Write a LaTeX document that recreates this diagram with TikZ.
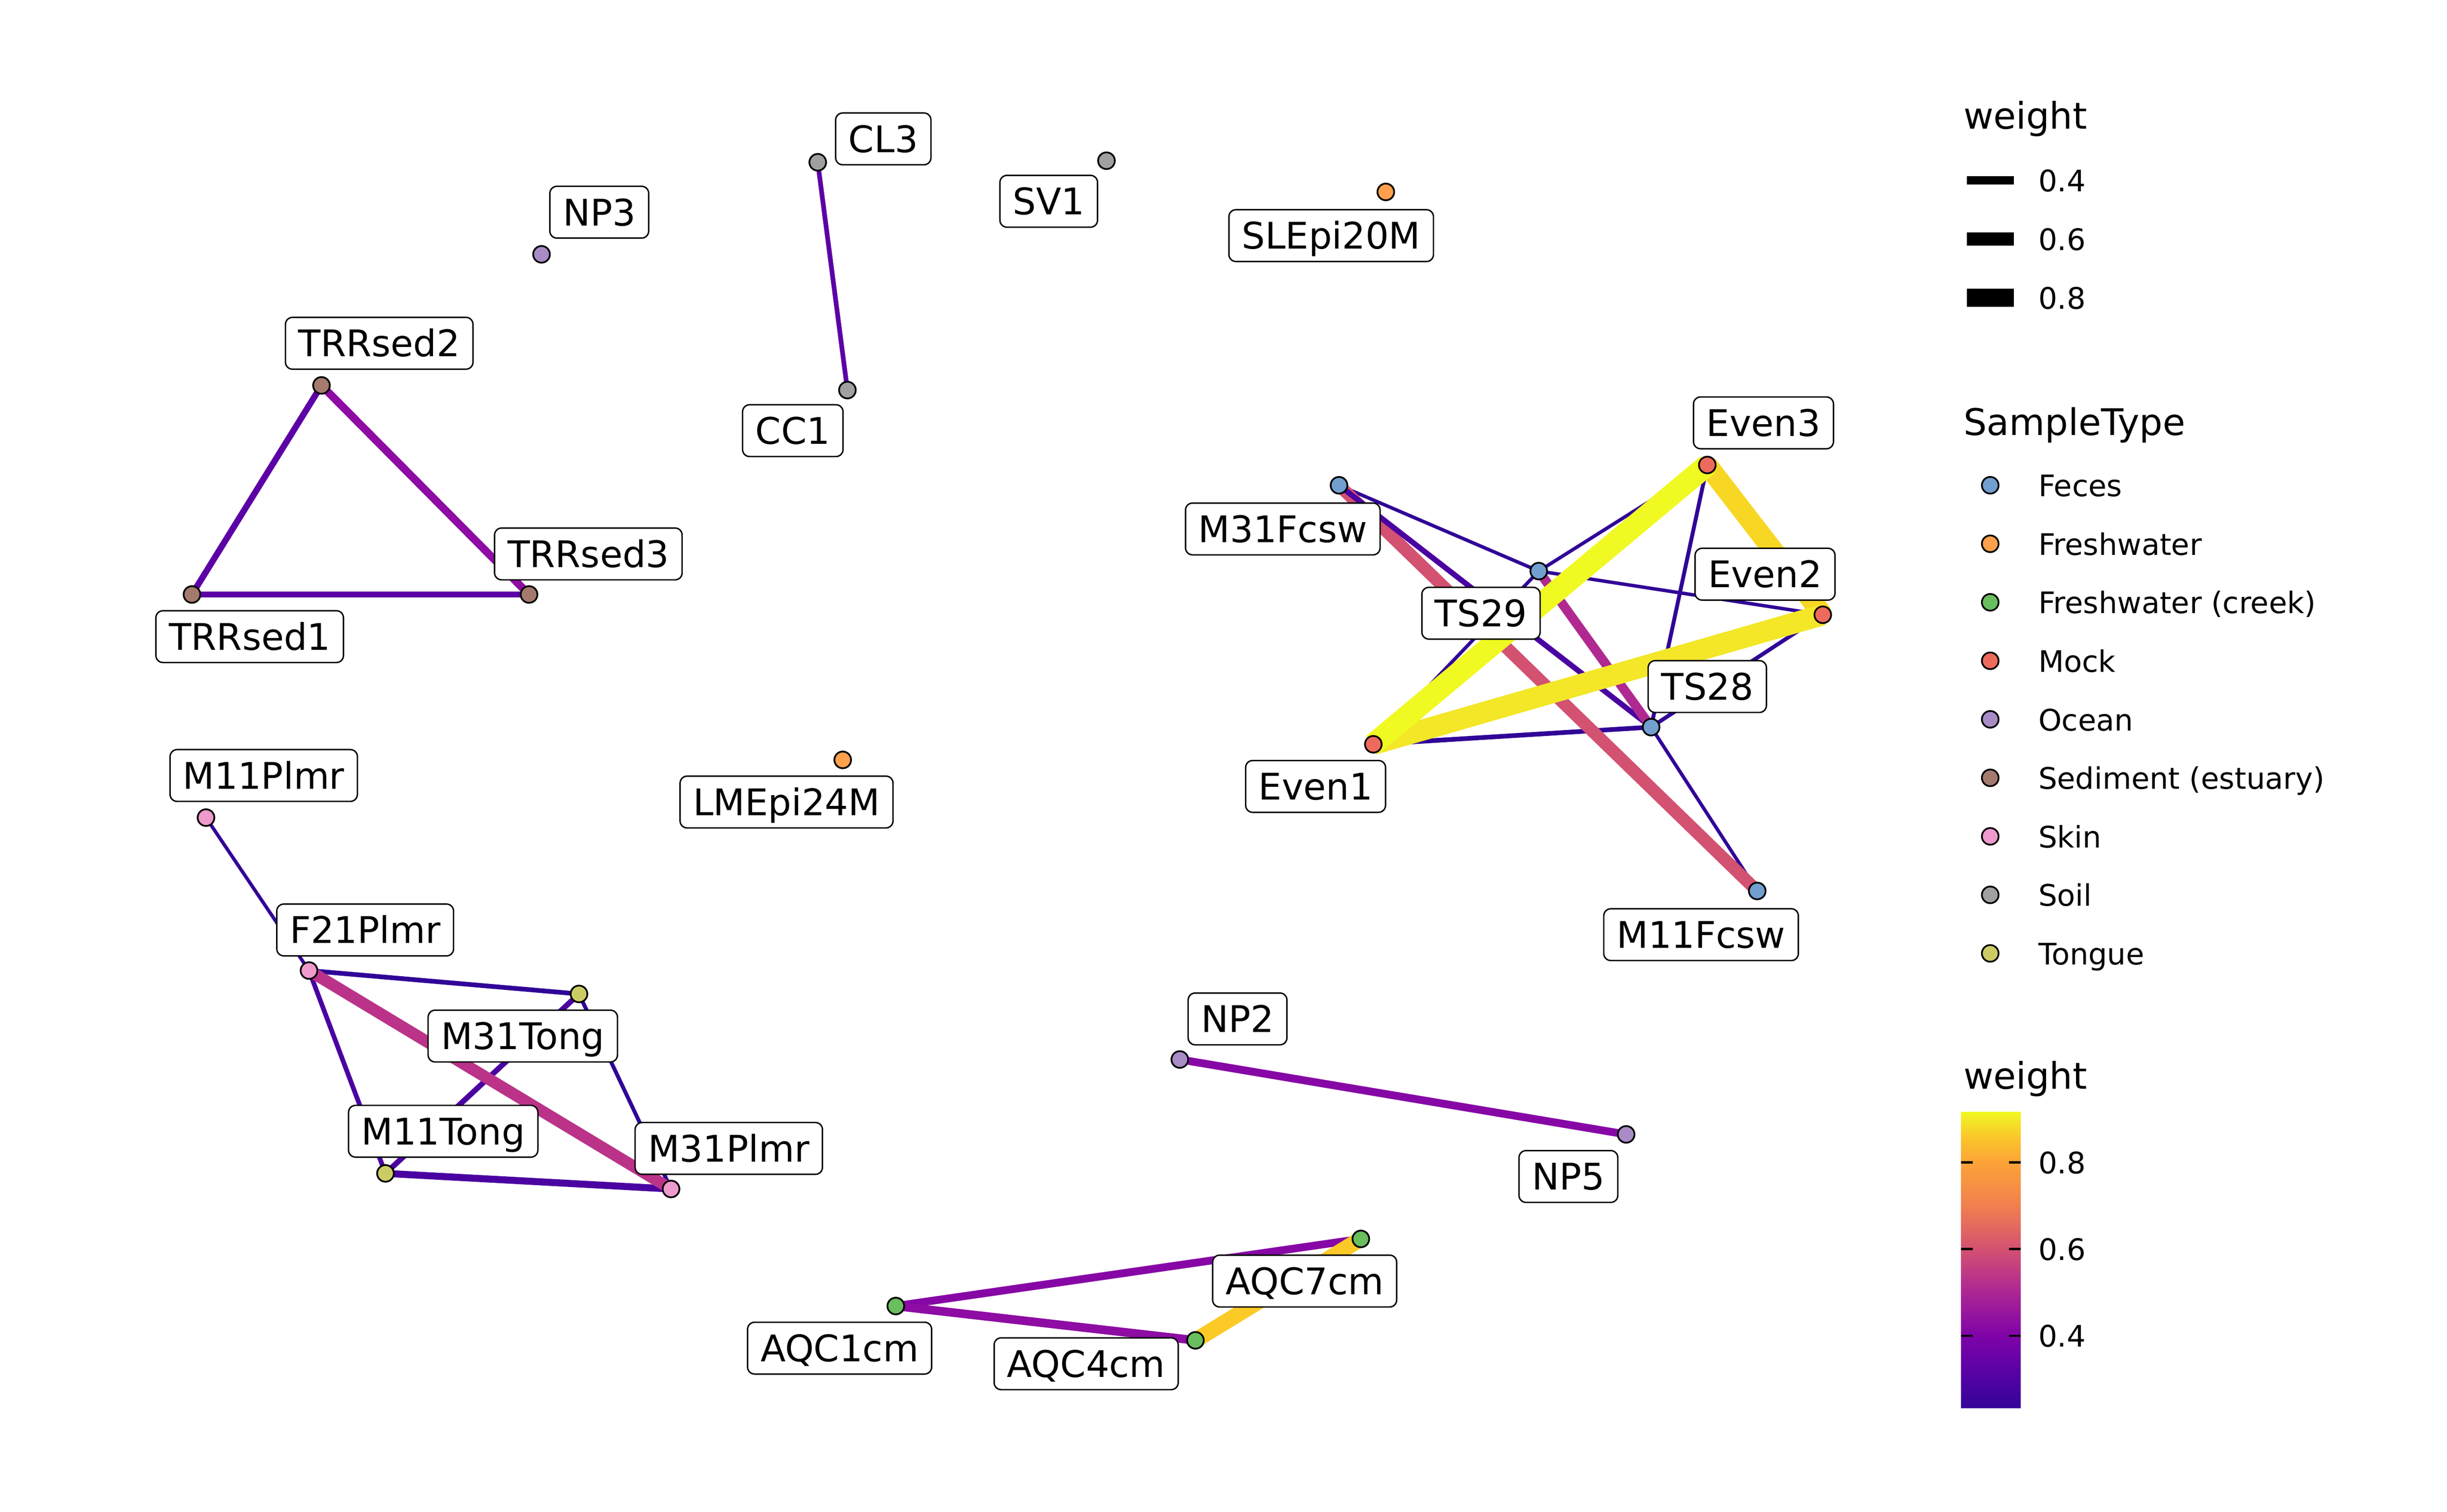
\documentclass[tikz,border=0pt]{standalone}
\usepackage{fontspec}
\setmainfont{DejaVu Sans}
\newcommand\labfnt{\fontsize{23.5}{28}\selectfont}
\newcommand\keyfnt{\fontsize{19}{23}\selectfont}
% sample types
\definecolor{cFeces}{HTML}{729FCF}
\definecolor{cFresh}{HTML}{FEA04C}
\definecolor{cCreek}{HTML}{69BE5E}
\definecolor{cMock}{HTML}{EE6A5C}
\definecolor{cOcean}{HTML}{A98BC6}
\definecolor{cSed}{HTML}{A57A6E}
\definecolor{cSkin}{HTML}{EE9ACC}
\definecolor{cSoil}{HTML}{A0A0A0}
\definecolor{cTong}{HTML}{CCCC66}
% edge weights
\definecolor{eA}{HTML}{300597}
\definecolor{eB}{HTML}{4A03A1}
\definecolor{eC}{HTML}{5C01A6}
\definecolor{eD}{HTML}{8707A6}
\definecolor{eDD}{HTML}{8E0CA4}
\definecolor{eE}{HTML}{B02991}
\definecolor{eF}{HTML}{BA3388}
\definecolor{eG}{HTML}{D35171}
\definecolor{eH}{HTML}{FCCA26}
\definecolor{eI}{HTML}{F8D724}
\definecolor{eJ}{HTML}{F3E727}
\definecolor{eK}{HTML}{F0F921}
\definecolor{pA}{HTML}{350498}
\definecolor{pB}{HTML}{5102A3}
\definecolor{pC}{HTML}{7E03A8}
\definecolor{pD}{HTML}{AC2694}
\definecolor{pE}{HTML}{D35171}
\definecolor{pF}{HTML}{F07F4F}
\definecolor{pG}{HTML}{FCA338}
\definecolor{pH}{HTML}{FAC72A}
\definecolor{pI}{HTML}{F0F921}
\pgfdeclareverticalshading{plasma}{100bp}{color(0bp)=(pA); color(25bp)=(pA);
  color(29.8bp)=(pB); color(37.2bp)=(pC); color(44.5bp)=(pD); color(51.8bp)=(pE);
  color(59.1bp)=(pF); color(66.4bp)=(pG); color(70.8bp)=(pH); color(75bp)=(pI);
  color(100bp)=(pI)}
\pgfdeclarelayer{edges}
\pgfsetlayers{edges,main}
\begin{document}
\begin{tikzpicture}[x=1pt,y=-1pt,line join=round,
  pt/.style={circle,draw=black,line width=1.1pt,minimum size=10.7pt,inner sep=0pt},
  lab/.style={draw=black,fill=white,line width=0.9pt,rounded corners=4.5pt,
    inner xsep=8.3pt,inner ysep=8pt,text height=17.2pt,text depth=0pt,font=\labfnt},
  ttl/.style={anchor=base west,inner sep=0pt,font=\labfnt},
  key/.style={anchor=base west,inner sep=0pt,font=\keyfnt}]
 \useasboundingbox (0,0) rectangle (1568,969);
 % samples
 \foreach \n/\x/\y/\t/\lx/\ly in {CL3/524/104/cSoil/566/89, SV1/709/103/cSoil/672/129,
   SLEpi20M/888/123/cFresh/853/151, NP3/347/163/cOcean/384/136, CC1/543/250/cSoil/508/276,
   TRRsed2/206/247/cSed/243/220, TRRsed3/339/381/cSed/377/355, TRRsed1/123/381/cSed/160/408,
   M11Plmr/132/524/cSkin/169/497, LMEpi24M/540/487/cFresh/504/514,
   F21Plmr/198/622/cSkin/234/596, M31Tong/371/637/cTong/335/664,
   M11Tong/247/752/cTong/284/725, M31Plmr/430/762/cSkin/467/736,
   NP2/756/679/cOcean/793/653, NP5/1042/727/cOcean/1005/754,
   AQC1cm/574/837/cCreek/538/864, AQC4cm/766/859/cCreek/696/874, AQC7cm/872/794/cCreek/836/821,
   Even3/1094/298/cMock/1130/271, M31Fcsw/858/311/cFeces/822/339, TS29/986/366/cFeces/949/393,
   Even2/1168/394/cMock/1131/368, TS28/1058/466/cFeces/1094/440, Even1/880/477/cMock/843/504,
   M11Fcsw/1126/571/cFeces/1090/599}
 {\node[pt,fill=\t] (\n) at (\x,\y) {};
  \node[lab] (l\n) at (\lx,\ly) {\n};}
 % edges
 \begin{pgfonlayer}{edges}
 \foreach \a/\b/\c/\w in {M11Plmr/F21Plmr/eA/2.2, M31Tong/M31Plmr/eA/2.5, F21Plmr/M31Tong/eA/3,
   F21Plmr/M11Tong/eB/3, M31Tong/M11Tong/eB/3.5, M11Tong/M31Plmr/eB/4.5,
   M31Fcsw/TS29/eA/2.2, TS29/Even3/eA/2.2, TS29/Even2/eA/2.2, TS29/Even1/eA/2.2,
   Even1/TS28/eA/3, Even3/TS28/eA/2.5, Even2/TS28/eA/2.5, TS28/M11Fcsw/eA/2.2,
   CL3/CC1/eC/3, TRRsed2/TRRsed1/eC/4, TRRsed1/TRRsed3/eC/4, TRRsed2/TRRsed3/eDD/5,
   NP2/NP5/eD/5, AQC1cm/AQC7cm/eD/5, AQC1cm/AQC4cm/eDD/5.5,
   M31Fcsw/M11Fcsw/eG/8, M31Fcsw/TS28/eB/3.5, TS29/TS28/eE/6, F21Plmr/M31Plmr/eF/7.5,
   AQC4cm/AQC7cm/eH/10, Even3/Even2/eI/13, Even1/Even2/eJ/13.5, Even1/Even3/eK/14}
 \draw[color=\c,line width=\w pt] (\a.center) -- (\b.center);
 \end{pgfonlayer}
 % legend: edge width
 \node[ttl] (wtitle) at (1258,82.5) {weight};
 \foreach \v/\y/\w [count=\i] in {0.4/115.6/5.3, 0.6/153.2/8.5, 0.8/190.8/11.8}
 {\draw[line width=\w pt] (1260.2,\y) -- (1290.3,\y);
  \node[key] (wk\i) at (1306,\y+7.2) {\v};}
 % legend: sample type
 \node[ttl] (stitle) at (1258,279) {SampleType};
 \foreach \t/\s [count=\i] in {cFeces/Feces, cFresh/Freshwater, cCreek/Freshwater (creek),
   cMock/Mock, cOcean/Ocean, cSed/Sediment (estuary), cSkin/Skin, cSoil/Soil, cTong/Tongue}
 {\node[pt,fill=\t] (sk\i) at (1275.3,{311+(\i-1)*37.5}) {};
  \node[key] (st\i) at (1306,{318.2+(\i-1)*37.5}) {\s};}
 % legend: colour bar
 \node[ttl] (ctitle) at (1258,698) {weight};
 \shade[shading=plasma] (1256.5,712.5) rectangle (1294.8,902.3);
 \foreach \v/\y [count=\i] in {0.8/745, 0.6/800.4, 0.4/856.1}
 {\draw[line width=1.5pt] (1256.5,\y) -- ++(7.6,0) (1294.8,\y) -- ++(-7.6,0);
  \node[key] (ck\i) at (1306,\y+7.2) {\v};}
\end{tikzpicture}
\end{document}
